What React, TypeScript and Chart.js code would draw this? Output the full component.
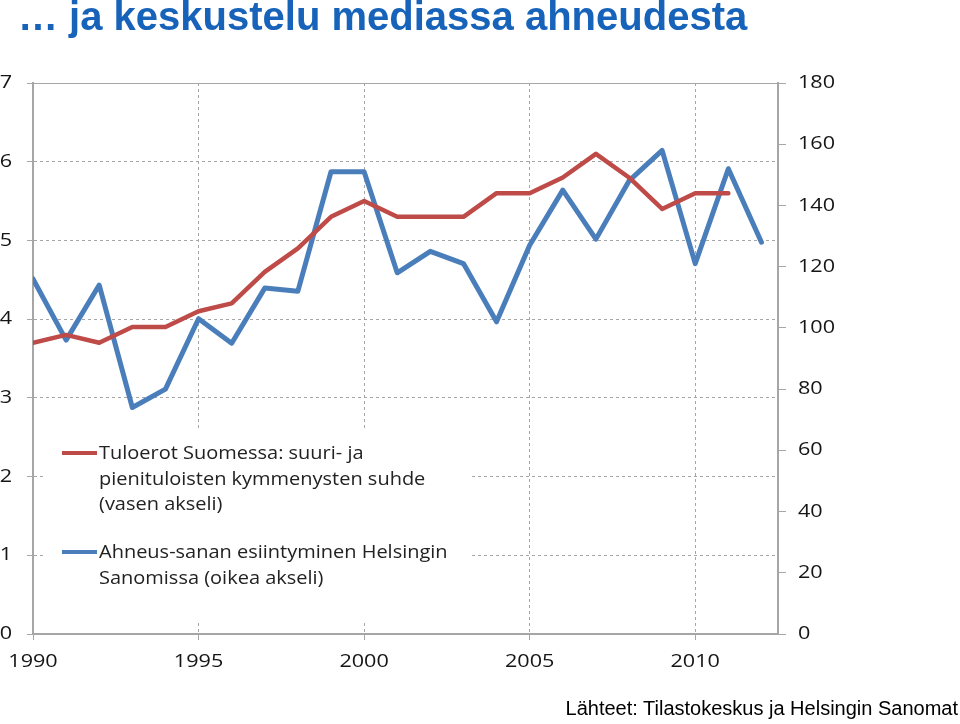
import React, { useEffect, useRef } from "react";
import { Chart, registerables } from "chart.js";

Chart.register(...registerables);

const years = [1990, 1991, 1992, 1993, 1994, 1995, 1996, 1997, 1998, 1999, 2000, 2001, 2002, 2003, 2004, 2005, 2006, 2007, 2008, 2009, 2010, 2011, 2012];
const incomeRatio = [3.7, 3.8, 3.7, 3.9, 3.9, 4.1, 4.2, 4.6, 4.9, 5.3, 5.5, 5.3, 5.3, 5.3, 5.6, 5.6, 5.8, 6.1, 5.8, 5.4, 5.6, 5.6];
const greedMentions = [116, 96, 114, 74, 80, 103, 95, 113, 112, 151, 151, 118, 125, 121, 102, 127, 145, 129, 148, 158, 121, 152, 128];
const legendRed = ["Tuloerot Suomessa: suuri- ja", "pienituloisten kymmenysten suhde", "(vasen akseli)"];
const legendBlue = ["Ahneus-sanan esiintyminen Helsingin", "Sanomissa (oikea akseli)"];
const titleText = "… ja keskustelu mediassa ahneudesta";
const sourceText = "Lähteet: Tilastokeskus ja Helsingin Sanomat";

const RED = "#BE4B48";
const BLUE = "#4A7EBB";
const GRID = "#A6A6A6";
const TEXT_FONT = "'Open Sans', 'DejaVu Sans', sans-serif";

function stretchedText(ctx: any, text: string, x: number, y: number, align: string, sx: number) {
  ctx.save();
  ctx.translate(x, y);
  ctx.scale(sx, 1);
  ctx.textAlign = align;
  ctx.fillText(text, 0, 0);
  ctx.restore();
}

const legendPlugin = {
  id: "boxLegend",
  afterDatasetsDraw(chart: any) {
    const ctx = chart.ctx;
    ctx.save();
    ctx.fillStyle = "#ffffff";
    ctx.fillRect(44, 430, 428, 190);
    ctx.lineWidth = 4;
    ctx.lineCap = "butt";
    ctx.strokeStyle = RED;
    ctx.beginPath();
    ctx.moveTo(62, 453);
    ctx.lineTo(97, 453);
    ctx.stroke();
    ctx.strokeStyle = BLUE;
    ctx.beginPath();
    ctx.moveTo(62, 552);
    ctx.lineTo(97, 552);
    ctx.stroke();
    ctx.fillStyle = "#222222";
    ctx.font = "18.5px " + TEXT_FONT;
    ctx.textBaseline = "middle";
    legendRed.forEach((t, i) => stretchedText(ctx, t, 99, 454 + i * 25.5, "left", 1.08));
    legendBlue.forEach((t, i) => stretchedText(ctx, t, 99, 553 + i * 25.5, "left", 1.08));
    ctx.restore();
  },
  afterDraw(chart: any) {
    const ctx = chart.ctx;
    const { x, y, y1 } = chart.scales;
    ctx.save();
    ctx.fillStyle = "#151515";
    ctx.font = "18px " + TEXT_FONT;
    ctx.textBaseline = "middle";
    const sx = 1.2;
    x.ticks.forEach((t: any) => stretchedText(ctx, String(t.value), x.getPixelForValue(t.value), 662, "center", sx));
    y.ticks.forEach((t: any) => stretchedText(ctx, String(t.value), 12, y.getPixelForValue(t.value), "right", sx));
    y1.ticks.forEach((t: any) => stretchedText(ctx, String(t.value), 798, y1.getPixelForValue(t.value), "left", sx));
    ctx.restore();
  },
};

export default function App() {
  const ref = useRef<HTMLCanvasElement | null>(null);
  useEffect(() => {
    if (!ref.current) return;
    const chart = new Chart(ref.current, {
      type: "line",
      data: {
        datasets: [
          {
            label: legendRed.join(" "),
            data: incomeRatio.map((v, i) => ({ x: years[i], y: v })),
            borderColor: RED,
            borderWidth: 4.5,
            pointRadius: 0,
            tension: 0,
            yAxisID: "y",
            borderJoinStyle: "round",
            borderCapStyle: "round",
          },
          {
            label: legendBlue.join(" "),
            data: greedMentions.map((v, i) => ({ x: years[i], y: v })),
            borderColor: BLUE,
            borderWidth: 5,
            pointRadius: 0,
            tension: 0,
            yAxisID: "y1",
            borderJoinStyle: "round",
            borderCapStyle: "round",
          },
        ],
      },
      options: {
        responsive: false,
        animation: false,
        events: [],
        layout: { padding: { top: 83, left: 0, right: 122, bottom: 40 } },
        plugins: { legend: { display: false }, tooltip: { enabled: false } },
        scales: {
          x: {
            type: "linear",
            min: 1990,
            max: 2012.5,
            afterFit: (s: any) => { s.height = 50; },
            ticks: { stepSize: 5, includeBounds: false, display: false, maxRotation: 0 },
            grid: { color: GRID, lineWidth: 1, tickLength: 6, tickColor: GRID },
            border: { display: true, color: GRID, width: 2, dash: [3, 3] },
          },
          y: {
            position: "left",
            min: 0,
            max: 7,
            afterFit: (s: any) => { s.width = 33; },
            ticks: { stepSize: 1, display: false },
            grid: { color: GRID, lineWidth: 1, tickLength: 6, tickColor: GRID },
            border: {
              display: true,
              color: GRID,
              width: 2,
              dash: (c: any) => (c.tick && c.tick.value === 7 ? [] : [3, 3]),
            },
          },
          y1: {
            position: "right",
            min: 0,
            max: 180,
            afterFit: (s: any) => { s.width = 60; },
            ticks: { stepSize: 20, display: false },
            grid: { drawOnChartArea: false, color: GRID, tickLength: 8, tickColor: GRID },
            border: { display: true, color: GRID, width: 2 },
          },
        },
      } as any,
      plugins: [legendPlugin],
    });
    return () => chart.destroy();
  }, []);

  return (
    <div style={{ position: "absolute", left: 0, top: 0, width: 960, height: 724, background: "#fff", overflow: "hidden" }}>
      <canvas ref={ref} width={960} height={724} style={{ position: "absolute", left: 0, top: 0 }} />
      <div
        style={{
          position: "absolute",
          left: 18,
          top: -6,
          fontFamily: "'Liberation Sans', Arial, sans-serif",
          fontWeight: "bold",
          fontSize: 40,
          color: "#1763BA",
          whiteSpace: "nowrap",
          lineHeight: "44px",
        }}
      >
        {titleText}
      </div>
      <div
        style={{
          position: "absolute",
          right: 2,
          top: 696,
          fontFamily: "'Liberation Sans', Arial, sans-serif",
          fontSize: 20,
          color: "#000",
          whiteSpace: "nowrap",
          lineHeight: "24px",
        }}
      >
        {sourceText}
      </div>
    </div>
  );
}
